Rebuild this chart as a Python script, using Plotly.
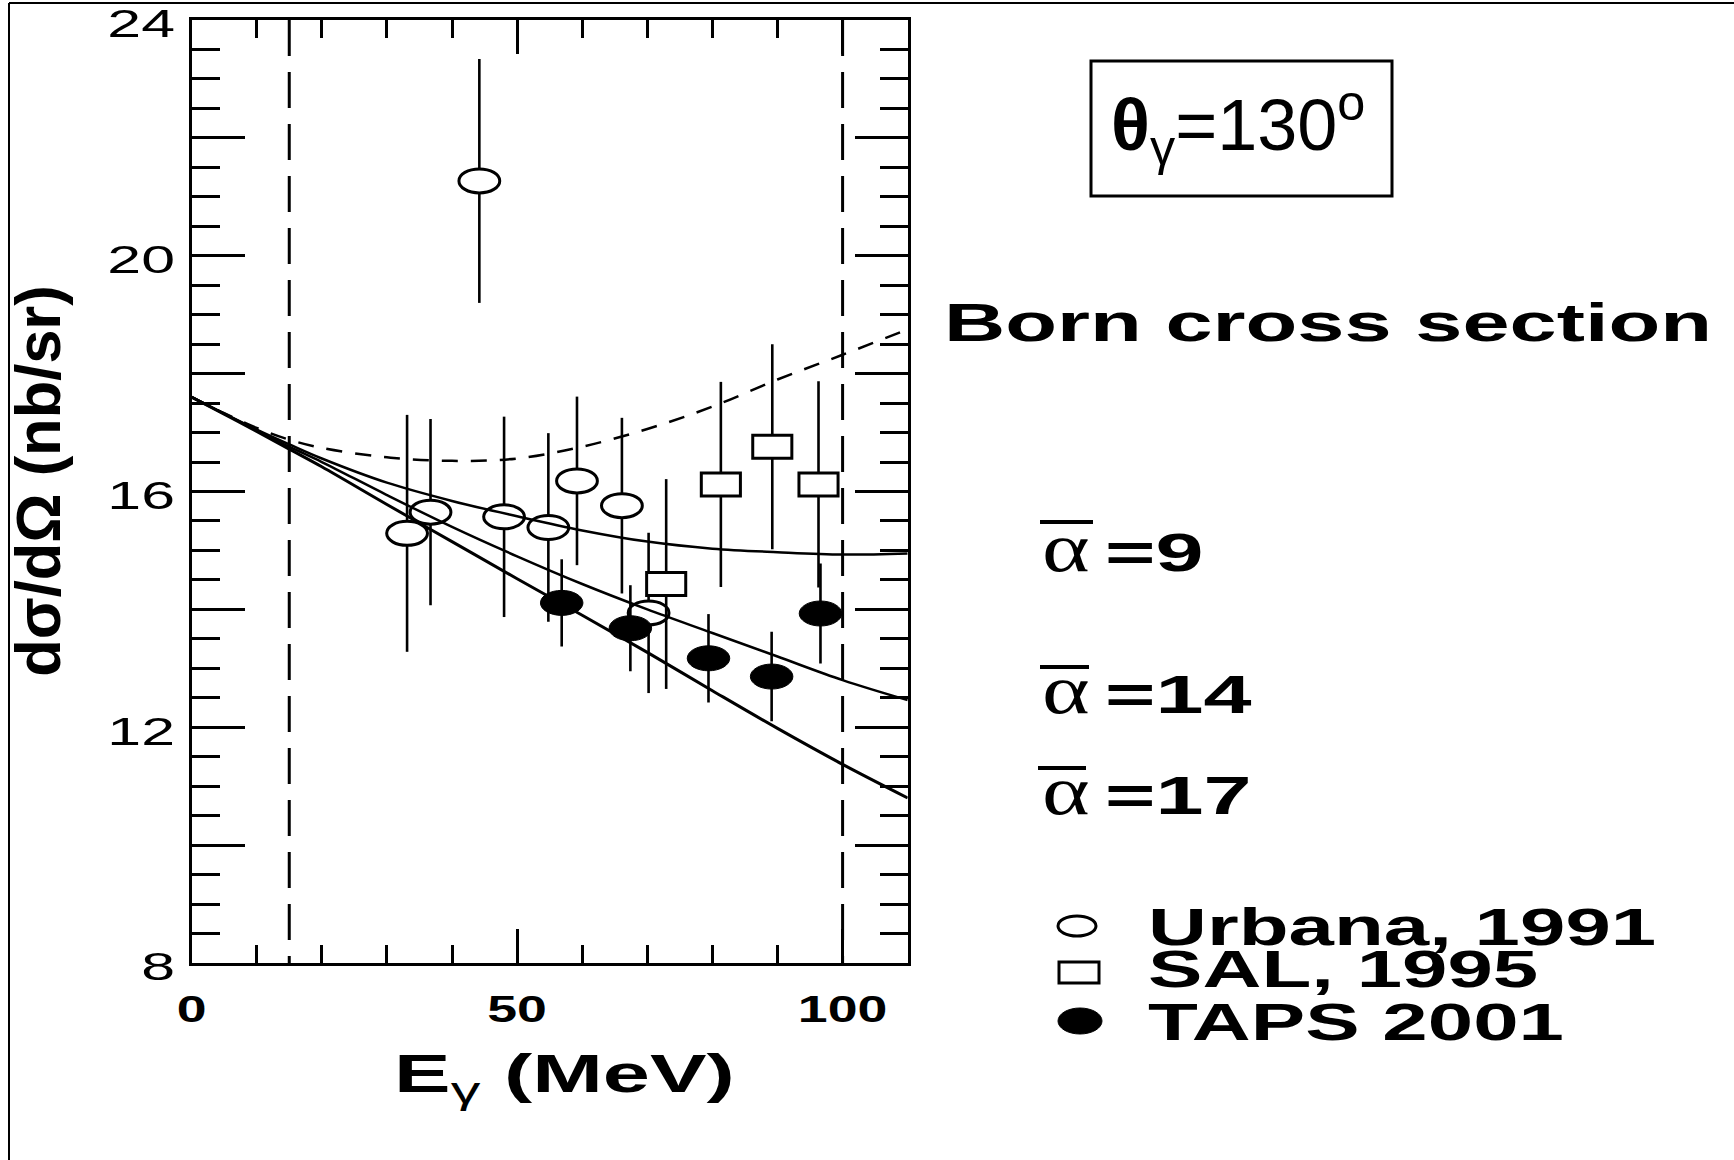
import json
import plotly.graph_objects as go

W, H = 1734, 1160

# Measured cross sections dσ/dΩ (nb/sr) at θγ = 130°
urbana_E = [33.1, 36.7, 44.2, 48.0, 54.8, 59.2, 66.1, 70.2]
urbana_xs = [15.29, 15.65, 21.27, 15.57, 15.39, 16.18, 15.76, 13.94]
urbana_err = [2.01, 1.58, 2.07, 1.70, 1.60, 1.43, 1.49, 1.36]

sal_E = [72.9, 81.3, 89.2, 96.3]
sal_xs = [14.43, 16.12, 16.76, 16.12]
sal_err = [1.78, 1.74, 1.74, 1.75]

taps_E = [56.85, 67.4, 79.4, 89.1, 96.6]
taps_xs = [14.11, 13.68, 13.17, 12.86, 13.93]
taps_err = [0.74, 0.73, 0.75, 0.76, 0.85]

# Model predictions: Born term and three values of the polarizability
model_E = [0, 5, 10, 15, 20, 30, 40, 50, 60, 70, 80, 90, 100, 110]
born_xs = [17.6, 17.33, 17.08, 16.88, 16.74, 16.58, 16.52, 16.56, 16.76, 17.06, 17.44, 17.9, 18.32, 18.75]
alpha9_xs = [17.6, 17.32, 17.05, 16.8, 16.56, 16.15, 15.84, 15.58, 15.34, 15.15, 15.03, 14.97, 14.93, 14.95]
alpha14_xs = [17.6, 17.32, 17.04, 16.76, 16.5, 15.94, 15.4, 14.9, 14.43, 14.0, 13.6, 13.2, 12.8, 12.46]
alpha17_xs = [17.6, 17.31, 17.02, 16.72, 16.42, 15.78, 15.15, 14.52, 13.9, 13.27, 12.62, 11.98, 11.37, 10.8]

# Energy window limits (dashed verticals)
cut_E = [15, 100]

x_ticks = [0, 50, 100]
x_ticktext = ["0", "50", "100"]
y_range = [8, 24]
y_major_step = 2      # long ticks every 2, labels every 4
y_minor_step = 0.5

alpha_values = ["9", "14", "17"]
legend_labels = ["Urbana, 1991", "SAL, 1995", "TAPS 2001"]

SANS = "Liberation Sans, Arial, sans-serif"
SERIF = "Liberation Serif, Times New Roman, serif"


def px(x):
    return x / W


def py(y):
    return 1 - y / H


fig = go.Figure()

err_style = dict(type="data", thickness=2.6, width=0, color="black")

fig.add_trace(go.Scatter(
    x=urbana_E, y=urbana_xs, mode="markers", name=legend_labels[0],
    error_y=dict(array=urbana_err, **err_style),
    marker=dict(symbol="circle", size=24, color="white", line=dict(color="black", width=3)),
))
fig.add_trace(go.Scatter(
    x=sal_E, y=sal_xs, mode="markers", name=legend_labels[1],
    error_y=dict(array=sal_err, **err_style),
    marker=dict(symbol="square", size=23, color="white", line=dict(color="black", width=3)),
))
fig.add_trace(go.Scatter(
    x=taps_E, y=taps_xs, mode="markers", name=legend_labels[2],
    error_y=dict(array=taps_err, **err_style),
    marker=dict(symbol="circle", size=25, color="black", line=dict(color="black", width=1)),
))

fig.add_trace(go.Scatter(x=model_E, y=born_xs, mode="lines", name="Born",
                         line=dict(color="black", width=2.5, dash="16px,13px", shape="spline")))
fig.add_trace(go.Scatter(x=model_E, y=alpha9_xs, mode="lines", name="alpha 9",
                         line=dict(color="black", width=2.5, shape="spline")))
fig.add_trace(go.Scatter(x=model_E, y=alpha14_xs, mode="lines", name="alpha 14",
                         line=dict(color="black", width=2.5, shape="spline")))
fig.add_trace(go.Scatter(x=model_E, y=alpha17_xs, mode="lines", name="alpha 17",
                         line=dict(color="black", width=3, shape="spline")))

shapes = []
for e in cut_E:
    shapes.append(dict(type="line", xref="x", yref="y", x0=e, x1=e, y0=y_range[1], y1=y_range[0],
                       line=dict(color="black", width=3, dash="36px,16px"), layer="below"))

# outer frame (top and left edges)
shapes.append(dict(type="line", xref="paper", yref="paper", x0=px(9), x1=px(W), y0=py(3), y1=py(3),
                   line=dict(color="black", width=2)))
shapes.append(dict(type="line", xref="paper", yref="paper", x0=px(9), x1=px(9), y0=py(3), y1=py(H),
                   line=dict(color="black", width=2)))

# box around the angle label
shapes.append(dict(type="rect", xref="paper", yref="paper", x0=px(1091), x1=px(1392), y0=py(61), y1=py(196),
                   line=dict(color="black", width=3)))

# overlines of the alpha labels
for x0, x1, y in [(1040, 1093, 522), (1040, 1089, 667), (1038, 1086, 768)]:
    shapes.append(dict(type="line", xref="paper", yref="paper", x0=px(x0), x1=px(x1), y0=py(y), y1=py(y),
                       line=dict(color="black", width=4)))

# legend keys
shapes.append(dict(type="circle", xref="paper", yref="paper", x0=px(1058), x1=px(1096), y0=py(916), y1=py(936),
                   line=dict(color="black", width=3), fillcolor="white"))
shapes.append(dict(type="rect", xref="paper", yref="paper", x0=px(1059), x1=px(1099), y0=py(962), y1=py(983),
                   line=dict(color="black", width=3), fillcolor="white"))
shapes.append(dict(type="circle", xref="paper", yref="paper", x0=px(1058), x1=px(1102), y0=py(1008), y1=py(1034),
                   line=dict(color="black", width=1), fillcolor="black"))

annotations = []
stretch = []


def add_text(text, x, y, size, xanchor="center", yanchor="middle", sx=1.0, sy=1.0, origin="middle",
             angle=0, family=SANS, bold=False):
    idx = len(annotations)
    annotations.append(dict(
        text=text, x=px(x), y=py(y), xref="paper", yref="paper", xanchor=xanchor, yanchor=yanchor,
        showarrow=False, textangle=angle,
        font=dict(family=family, size=size, color="black", weight="bold" if bold else "normal"),
    ))
    if sx != 1 or sy != 1:
        stretch.append([idx, sx, sy, origin])


add_text("dσ/dΩ (nb/sr)", 38, 481, 48, angle=-90, bold=True, sx=1.28, sy=1.3)
add_text("<b>E</b><sub>γ</sub><b> (MeV)</b>", 564, 1042, 53, yanchor="top", sx=1.6)
add_text("<b>θ</b><sub>γ</sub>=130<sup>o</sup>", 1238, 178, 72, yanchor="bottom")
add_text("Born cross section", 942, 322.6, 53, xanchor="left", bold=True, sx=1.6, origin="start")

for val, base in zip(alpha_values, [571, 713, 814]):
    add_text("α", 1040, base - 0.3375 * 70, 70, xanchor="left", family=SERIF, sx=1.3, origin="start")
    add_text("=" + val, 1103, base - 0.3465 * 54, 54, xanchor="left", bold=True, sx=1.6, origin="start")

for label, base in zip(legend_labels, [945, 987, 1040]):
    add_text(label, 1146, base - 0.3465 * 52, 52, xanchor="left", bold=True, sx=1.57, origin="start")

axis_common = dict(showline=True, linecolor="black", linewidth=3, mirror="allticks",
                   ticks="inside", tickcolor="black", tickwidth=3, showgrid=False, zeroline=False,
                   ticklabeloverflow="allow")

fig.update_layout(
    width=W, height=H,
    margin=dict(l=0, r=0, t=0, b=0, autoexpand=False),
    paper_bgcolor="white", plot_bgcolor="white",
    showlegend=False,
    font=dict(family=SANS, color="black"),
    xaxis=dict(range=[0, 110], domain=[px(191.6), px(907.7)], tickmode="array",
               tickvals=x_ticks, ticktext=x_ticktext, ticklen=34, ticklabelstandoff=12,
               tickfont=dict(size=37, family=SANS, color="black", weight="bold"),
               minor=dict(tickmode="linear", tick0=0, dtick=10, ticklen=18, tickwidth=3,
                          tickcolor="black", ticks="inside"),
               **axis_common),
    yaxis=dict(range=y_range, domain=[py(963), py(20)], tickmode="linear",
               tick0=y_range[0], dtick=y_major_step, ticklabelstep=2,
               ticklen=53, ticklabelstandoff=6,
               tickfont=dict(size=38, family=SANS, color="black"),
               minor=dict(tickmode="linear", tick0=y_range[0], dtick=y_minor_step, ticklen=28, tickwidth=3,
                          tickcolor="black", ticks="inside"),
               **axis_common),
    shapes=shapes,
    annotations=annotations,
)

# Page without body margin, then widen glyphs and markers horizontally once the plot is drawn.
post_js = """
document.documentElement.style.margin = '0';
document.body.style.margin = '0';
document.body.style.overflow = 'hidden';
var gd = document.getElementById('{plot_id}');
function stretchEl(el, sx, sy, anchor, dy) {
  var b = el.getBBox();
  var cx = anchor === 'start' ? b.x : (anchor === 'end' ? b.x + b.width : b.x + b.width / 2);
  var cy = b.y + b.height / 2;
  var t = el.getAttribute('transform') || '';
  el.setAttribute('transform', t + ' translate(' + cx + ',' + (cy + (dy || 0)) + ') scale(' + sx + ',' + sy + ') translate(' + (-cx) + ',' + (-cy) + ')');
}
var specs = SPECS;
specs.forEach(function(s) {
  var el = gd.querySelector('g.annotation[data-index="' + s[0] + '"] text.annotation-text');
  if (el) { stretchEl(el, s[1], s[2], s[3], 0); }
});
gd.querySelectorAll('g.xtick > text').forEach(function(el) { stretchEl(el, 1.45, 1, 'middle', 0); });
gd.querySelectorAll('g.ytick > text').forEach(function(el) { stretchEl(el, 1.6, 1, 'end', 4); });
gd.querySelectorAll('.scatterlayer path.point').forEach(function(el) {
  el.setAttribute('transform', (el.getAttribute('transform') || '') + ' scale(1.7,1)');
  el.style.vectorEffect = 'non-scaling-stroke';
});
""".replace("SPECS", json.dumps(stretch))

fig.write_html("out.html", post_script=post_js, config={"displayModeBar": False})
